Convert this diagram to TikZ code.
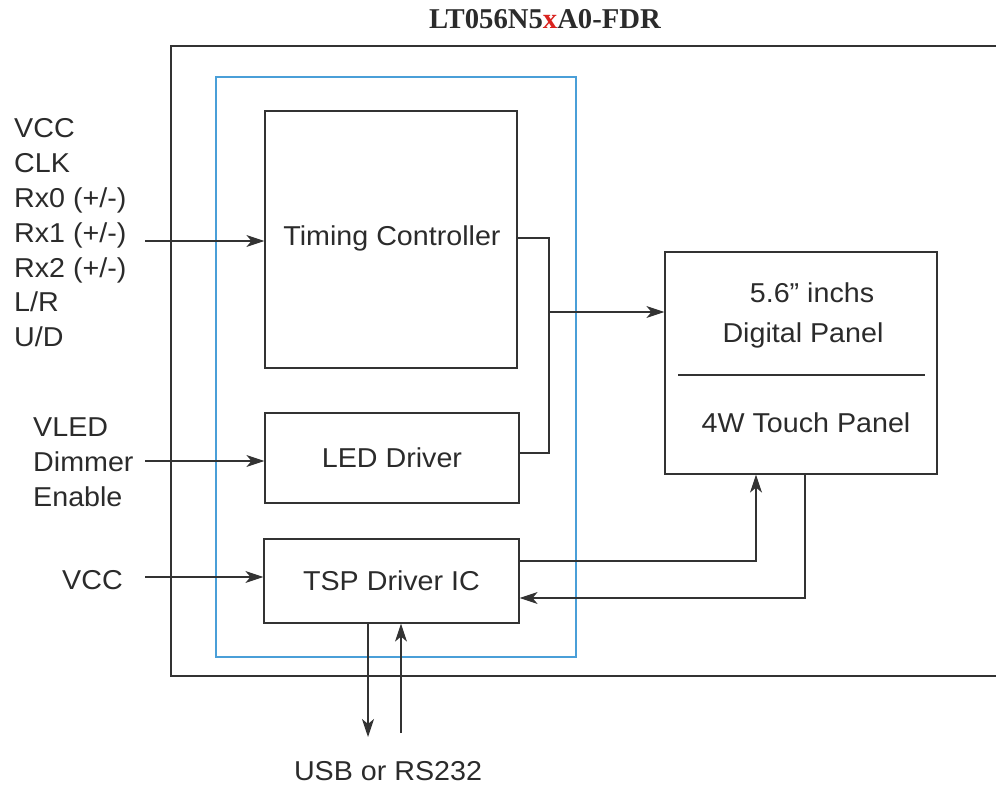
\documentclass[tikz,border=0pt]{standalone}
\usepackage{fontspec}
\setmainfont{Liberation Sans}[FakeStretch=1.05]
\newfontfamily\titlefont{Liberation Serif}
\usetikzlibrary{arrows.meta}
\definecolor{txt}{HTML}{2B2B2B}
\definecolor{ln}{HTML}{333333}
\definecolor{blu}{HTML}{4A9FD8}
\definecolor{ttl}{HTML}{D9231F}
\tikzset{
  lbl/.style={text=txt,inner sep=0pt,font=\fontsize{27.3}{34.8}\selectfont},
  blk/.style={draw=ln,line width=1.2pt,inner sep=0pt,text=txt,font=\fontsize{27.3}{34.8}\selectfont},
  conn/.style={draw=ln,line width=1.2pt},
  arr/.style={conn,-{Stealth[length=18pt,width=12pt,inset=5pt]}},
}
\begin{document}
\begin{tikzpicture}[x=1pt,y=-1pt]
\useasboundingbox (0,0) rectangle (996,786);
% title
\node[inner sep=0pt,text=txt,font=\titlefont\bfseries\fontsize{28.7}{30}\selectfont] (title) at (545,19) {LT056N5\textcolor{ttl}{x}A0-FDR};
% outer frame (open at right)
\draw[draw=ln,line width=1.5pt] (996,46) -- (171,46) -- (171,676) -- (996,676);
% blue box
\node[draw=blu,line width=1.3pt,minimum width=360pt,minimum height=580pt,inner sep=0pt] (bluebox) at (396,367) {};
% blocks
\node[blk,minimum width=252pt,minimum height=257pt] (tc) at (391,239.5) {};
\node[lbl] (tctext) at (392,238) {Timing Controller};
\node[blk,minimum width=254pt,minimum height=90pt] (led) at (392,458) {LED Driver};
\node[blk,minimum width=255pt,minimum height=84pt] (tsp) at (391.5,581) {TSP Driver IC};
\node[blk,minimum width=272pt,minimum height=222pt] (panel) at (801,363) {};
\node[lbl] (p1) at (812,293) {5.6” inchs};
\node[lbl] (p2) at (803,335) {Digital Panel};
\node[lbl] (p3) at (806,423) {4W Touch Panel};
\coordinate (sepL) at (678,375);
\coordinate (sepR) at (925,375);
\draw[conn] (sepL) -- (sepR);
% left labels
\node[lbl,align=left,anchor=west] (inlist) at (14,233) {VCC\\CLK\\Rx0 (+/-)\\Rx1 (+/-)\\Rx2 (+/-)\\L/R\\U/D};
\node[lbl,align=left,anchor=west] (ledin) at (33,462) {VLED\\Dimmer\\Enable};
\node[lbl,anchor=west] (vcc) at (62,580) {VCC};
\node[lbl] (usb) at (388,771) {USB or RS232};
% connectors
\coordinate (a1) at (145,241);
\draw[arr] (a1) -- (tc.west |- a1);
\coordinate (a2) at (145,461);
\draw[arr] (a2) -- (led.west |- a2);
\coordinate (a3) at (145,577);
\draw[arr] (a3) -- (tsp.west |- a3);
\coordinate (j) at (549,312);
\draw[conn] (tc.east |- 0,238) -- (549,238) -- (549,453) -- (led.east |- 0,453);
\draw[arr] (j) -- (panel.west |- j);
\draw[arr] (tsp.east |- 0,561) -- (756,561) -- (panel.south -| 756,0);
\draw[arr] (panel.south -| 805,0) -- (805,598) -- (tsp.east |- 0,598);
\coordinate (usbd) at (368,737);
\coordinate (usbu) at (401,733);
\draw[arr] (tsp.south -| usbd) -- (usbd);
\draw[arr] (usbu) -- (tsp.south -| usbu);
\end{tikzpicture}
\end{document}
